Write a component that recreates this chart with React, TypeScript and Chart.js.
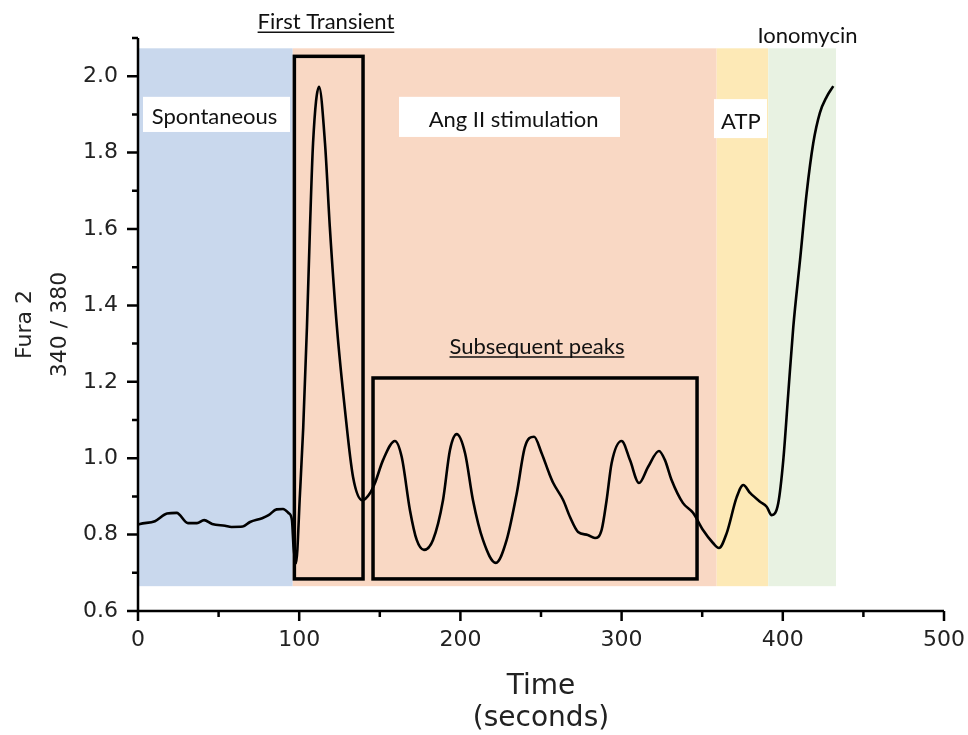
import React, { useEffect, useRef } from 'react';
import { Chart, registerables } from 'chart.js';

Chart.register(...registerables);

// ---- data (time in seconds, Fura 2 ratio 340/380) ----
const timeSec = [
  0, 1.2, 10.5, 18, 24, 31, 36.6, 41, 46, 54, 58, 65, 69.5, 77, 81, 86, 90, 93.5, 95.5, 96.5,
  98, 100.5, 102.5, 104.8, 106.7, 108.6, 112.3, 116, 119, 123.4, 128.4, 133.4, 139.2, 144, 147,
  152, 159.4, 163.6, 168.7, 172.9, 177.4, 183, 189.2, 193.5, 197.7, 202.9, 207.8, 214, 222,
  228.7, 235, 240, 245.7, 250.4, 255, 257.6, 263.8, 268, 273, 279, 283.5, 287.6, 290.7, 293.8,
  300, 305.2, 310.8, 316.4, 323.2, 326.9, 331, 338, 344.3, 350.5, 356.7, 360.4, 365.2, 371.4,
  375.5, 379.7, 385.9, 390, 393.1, 397.2, 400.3, 403.4, 406.5, 410.7, 414.8, 418.9, 423, 427.2, 431.3,
];
const furaRatio = [
  0.826, 0.828, 0.835, 0.855, 0.857, 0.83, 0.83, 0.838, 0.828, 0.823, 0.82, 0.821, 0.833, 0.843,
  0.851, 0.866, 0.867, 0.856, 0.838, 0.768,
  0.725, 0.909, 1.08, 1.343, 1.605, 1.825, 1.972, 1.825, 1.605, 1.343, 1.126, 0.951, 0.89, 0.909, 0.935,
  0.995, 1.045, 1.003, 0.864, 0.786, 0.76, 0.786, 0.89, 1.021, 1.063, 1.013, 0.89, 0.786, 0.726,
  0.786, 0.909, 1.029, 1.056, 1.013, 0.961, 0.935, 0.89, 0.846, 0.807, 0.799, 0.791, 0.812, 0.89, 0.987,
  1.045, 0.995, 0.935, 0.977, 1.019, 0.995, 0.943, 0.883, 0.857, 0.812, 0.778, 0.765, 0.804, 0.898,
  0.93, 0.909, 0.886, 0.873, 0.851, 0.883, 0.995, 1.17, 1.343, 1.519, 1.694, 1.825, 1.904, 1.946, 1.974,
];

// tick values
const xMajorTicks = [0, 100, 200, 300, 400, 500];
const xMinorTicks = [50, 150, 250, 350, 450];
const yMajorTicks = [0.6, 0.8, 1.0, 1.2, 1.4, 1.6, 1.8, 2.0];
const yMinorTicks = [0.7, 0.9, 1.1, 1.3, 1.5, 1.7, 1.9, 2.1];

// phase bands
const bandNames = ['Spontaneous', 'Ang II stimulation', 'ATP', 'Ionomycin'];
const bandStart = [0, 96, 359, 391];
const bandEnd = [96, 359, 391, 433];
const bandColors = ['#c9d8ed', '#f9d8c4', '#fde9b6', '#e8f2e2'];
const bandTop = 2.073;
const bandBottom = 0.665;

// highlight boxes
const boxNames = ['First Transient', 'Subsequent peaks'];
const boxX0 = [97, 145.8];
const boxX1 = [139.6, 346.8];
const boxY0 = [0.684, 0.684];
const boxY1 = [2.052, 1.21];

const FONT_AXIS = '"DejaVu Sans", sans-serif';
const FONT_NOTE = 'Lato, "Open Sans", sans-serif';

// label boxes (white backgrounds) in data units
const labelBoxes = [
  { x0: 3.1, x1: 94.3, y0: 1.854, y1: 1.946 },
  { x0: 161.9, x1: 299, y0: 1.841, y1: 1.946 },
  { x0: 357.3, x1: 390.2, y0: 1.838, y1: 1.94 },
];
const notes = [
  { text: 'Spontaneous', x: 47.5, y: 1.893, underline: false },
  { text: 'Ang II stimulation', x: 233, y: 1.885, underline: false },
  { text: 'ATP', x: 374, y: 1.88, underline: false },
  { text: 'Ionomycin', x: 415.3, y: 2.105, underline: false },
  { text: 'First Transient', x: 116.6, y: 2.141, underline: true },
  { text: 'Subsequent peaks', x: 247.5, y: 1.291, underline: true },
];

const decorPlugin = {
  id: 'decor',
  beforeDatasetsDraw(chart: any) {
    const { ctx, scales } = chart;
    const x = scales.x, y = scales.y;
    ctx.save();
    bandNames.forEach((_, i) => {
      const x0 = x.getPixelForValue(bandStart[i]);
      const x1 = x.getPixelForValue(bandEnd[i]);
      const y0 = y.getPixelForValue(bandTop);
      const y1 = y.getPixelForValue(bandBottom);
      ctx.fillStyle = bandColors[i];
      ctx.fillRect(x0, y0, x1 - x0, y1 - y0);
    });
    ctx.fillStyle = '#ffffff';
    labelBoxes.forEach((b) => {
      const x0 = x.getPixelForValue(b.x0);
      const x1 = x.getPixelForValue(b.x1);
      const y0 = y.getPixelForValue(b.y1);
      const y1 = y.getPixelForValue(b.y0);
      ctx.fillRect(x0, y0, x1 - x0, y1 - y0);
    });
    ctx.restore();
  },
  afterDatasetsDraw(chart: any) {
    const { ctx, scales } = chart;
    const x = scales.x, y = scales.y;
    ctx.save();
    // highlight boxes
    ctx.strokeStyle = '#000';
    ctx.lineWidth = 3.5;
    boxNames.forEach((_, i) => {
      const x0 = x.getPixelForValue(boxX0[i]);
      const x1 = x.getPixelForValue(boxX1[i]);
      const y0 = y.getPixelForValue(boxY1[i]);
      const y1 = y.getPixelForValue(boxY0[i]);
      ctx.strokeRect(x0, y0, x1 - x0, y1 - y0);
    });
    // notes
    ctx.font = `22px ${FONT_NOTE}`;
    ctx.fillStyle = '#111';
    ctx.textAlign = 'center';
    ctx.textBaseline = 'middle';
    notes.forEach((n) => {
      const px = x.getPixelForValue(n.x);
      const py = y.getPixelForValue(n.y);
      ctx.fillText(n.text, px, py);
      if (n.underline) {
        const w = ctx.measureText(n.text).width;
        ctx.strokeStyle = '#111';
        ctx.lineWidth = 1.5;
        ctx.beginPath();
        ctx.moveTo(px - w / 2, py + 10);
        ctx.lineTo(px + w / 2, py + 10);
        ctx.stroke();
      }
    });
    // axes
    const left = chart.chartArea.left;
    const bottom = chart.chartArea.bottom;
    const top = chart.chartArea.top;
    const right = chart.chartArea.right;
    ctx.strokeStyle = '#000';
    ctx.lineWidth = 2.5;
    ctx.lineCap = 'butt';
    ctx.beginPath();
    ctx.moveTo(left, top);
    ctx.lineTo(left, bottom + 1.25);
    ctx.moveTo(left - 1.25, bottom);
    ctx.lineTo(right, bottom);
    ctx.stroke();
    ctx.beginPath();
    yMajorTicks.forEach((v) => {
      const py = y.getPixelForValue(v);
      ctx.moveTo(left - 11, py);
      ctx.lineTo(left, py);
    });
    yMinorTicks.forEach((v) => {
      const py = y.getPixelForValue(v);
      ctx.moveTo(left - 6, py);
      ctx.lineTo(left, py);
    });
    xMajorTicks.forEach((v) => {
      const px = x.getPixelForValue(v);
      ctx.moveTo(px, bottom);
      ctx.lineTo(px, bottom + 10);
    });
    xMinorTicks.forEach((v) => {
      const px = x.getPixelForValue(v);
      ctx.moveTo(px, bottom);
      ctx.lineTo(px, bottom + 6);
    });
    ctx.stroke();
    ctx.restore();
  },
};

export default function App() {
  const canvasRef = useRef<HTMLCanvasElement | null>(null);

  useEffect(() => {
    const canvas = canvasRef.current;
    if (!canvas) return;
    const points = timeSec.map((t, i) => ({ x: t, y: furaRatio[i] }));
    const chart = new Chart(canvas, {
      type: 'line',
      data: {
        datasets: [
          {
            label: 'Fura 2',
            data: points,
            borderColor: '#000',
            borderWidth: 2.6,
            pointRadius: 0,
            fill: false,
            cubicInterpolationMode: 'monotone',
          },
        ],
      },
      options: {
        responsive: false,
        animation: false,
        events: [],
        layout: { padding: { top: 38, right: 24, left: 0, bottom: 0 } },
        plugins: { legend: { display: false }, tooltip: { enabled: false } },
        scales: {
          x: {
            type: 'linear',
            min: 0,
            max: 500,
            grid: { display: false, drawTicks: false },
            border: { display: false },
            afterBuildTicks: (s: any) => {
              s.ticks = xMajorTicks.map((v) => ({ value: v }));
            },
            afterFit: (s: any) => {
              s.height = 124;
              s.paddingLeft = 0;
              s.paddingRight = 0;
            },
            ticks: {
              padding: 16,
              color: '#222',
              font: { family: FONT_AXIS, size: 22 },
              maxRotation: 0,
              callback: (v: any) => String(v),
            },
            title: {
              display: true,
              text: ['Time', '(seconds)'],
              color: '#222',
              font: { family: FONT_AXIS, size: 28, lineHeight: '32px' },
              padding: { top: 0, bottom: 0 },
            },
          },
          y: {
            type: 'linear',
            min: 0.6,
            max: 2.1,
            grid: { display: false, drawTicks: false },
            border: { display: false },
            afterBuildTicks: (s: any) => {
              s.ticks = yMajorTicks.map((v) => ({ value: v }));
            },
            afterFit: (s: any) => {
              s.width = 138;
              s.paddingTop = 0;
              s.paddingBottom = 0;
            },
            ticks: {
              padding: 20,
              color: '#222',
              font: { family: FONT_AXIS, size: 22 },
              callback: (v: any) => Number(v).toFixed(1),
            },
            title: {
              display: true,
              text: ['Fura 2', '340 / 380'],
              color: '#222',
              font: { family: FONT_AXIS, size: 22, lineHeight: '35px' },
              padding: { top: 8, bottom: 0 },
            },
          },
        },
      },
      plugins: [decorPlugin],
    } as any);
    return () => chart.destroy();
  }, []);

  return (
    <div style={{ position: 'absolute', left: 0, top: 0, width: 968, height: 735, background: '#fff' }}>
      <canvas ref={canvasRef} width={968} height={735} style={{ display: 'block' }} />
    </div>
  );
}
